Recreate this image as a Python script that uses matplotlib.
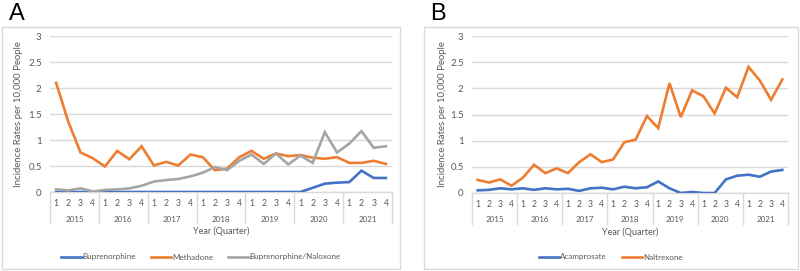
import numpy as np
import matplotlib
matplotlib.use("Agg")
import matplotlib.pyplot as plt
from matplotlib.patches import Rectangle
import matplotlib.transforms as mtransforms

plt.rcParams['font.family'] = ['Lato', 'DejaVu Sans']

years = ['2015', '2016', '2017', '2018', '2019', '2020', '2021']
quarters = ['1', '2', '3', '4']

# Panel A - opioid use disorder medications
buprenorphine = [0, 0, 0, 0, 0, 0, 0, 0, 0, 0, 0, 0, 0, 0, 0, 0,
                 0, 0, 0, 0, 0, 0.08, 0.16, 0.18, 0.19, 0.41, 0.27, 0.27]
methadone = [2.10, 1.35, 0.76, 0.65, 0.49, 0.79, 0.63, 0.88, 0.51, 0.58, 0.51, 0.72,
             0.67, 0.42, 0.45, 0.67, 0.79, 0.64, 0.74, 0.69, 0.71, 0.66, 0.64, 0.67,
             0.56, 0.56, 0.60, 0.54]
bup_naloxone = [0.05, 0.03, 0.07, 0.01, 0.04, 0.05, 0.07, 0.12, 0.20, 0.23, 0.25, 0.30,
                0.37, 0.48, 0.42, 0.60, 0.72, 0.54, 0.74, 0.53, 0.70, 0.56, 1.15, 0.76,
                0.93, 1.17, 0.85, 0.88]

# Panel B - alcohol use disorder medications
acamprosate = [0.05, 0.06, 0.09, 0.07, 0.09, 0.06, 0.09, 0.07, 0.08, 0.04, 0.09, 0.10,
               0.07, 0.12, 0.09, 0.11, 0.22, 0.09, 0.00, 0.02, 0.00, 0.00, 0.26, 0.33,
               0.35, 0.31, 0.41, 0.44]
naltrexone = [0.25, 0.20, 0.26, 0.14, 0.29, 0.54, 0.38, 0.47, 0.38, 0.59, 0.74, 0.59,
              0.64, 0.97, 1.02, 1.47, 1.24, 2.10, 1.45, 1.96, 1.85, 1.52, 2.01, 1.83,
              2.41, 2.15, 1.78, 2.17]

BLUE = '#4472C4'
ORANGE = '#ED7D31'
GRAY = '#A5A5A5'
GRID = '#D9D9D9'
TXT = '#595959'

W, H = 800, 271
fig = plt.figure(figsize=(W / 100, H / 100), dpi=100)


def px_axes(x0, x1, ytop, ybot):
    return fig.add_axes([x0 / W, (H - ybot) / H, (x1 - x0) / W, (ybot - ytop) / H])


def draw_panel(ax, series, letter, frame, letter_x, ylab_x):
    # frame around the panel
    fx0, fx1, fy0, fy1 = frame
    fig.patches.append(Rectangle((fx0 / W, (H - fy1) / H), (fx1 - fx0) / W, (fy1 - fy0) / H,
                                 transform=fig.transFigure, fill=False, ec=GRID, lw=1))
    fig.text(letter_x / W, (H - 14) / H, letter, fontsize=17, va='center', ha='left',
             family=['Liberation Sans', 'DejaVu Sans'])

    n = len(years) * len(quarters)
    x = np.arange(n)
    handles = []
    for vals, col, name in series:
        ln, = ax.plot(x, vals, color=col, lw=1.9, label=name, solid_joinstyle='miter')
        handles.append(ln)

    ax.set_xlim(-0.5, n - 0.5)
    ax.set_ylim(0, 3)
    ax.set_yticks([0, 0.5, 1, 1.5, 2, 2.5, 3])
    ax.set_yticklabels(['0', '0.5', '1', '1.5', '2', '2.5', '3'])
    ax.yaxis.grid(True, color=GRID, lw=1)
    ax.set_axisbelow(True)
    for s in ax.spines.values():
        s.set_visible(False)
    ax.tick_params(axis='y', length=0, pad=6, labelsize=7, labelcolor=TXT)
    ax.set_xticks(x)
    ax.set_xticklabels(quarters * len(years))
    ax.tick_params(axis='x', length=0, pad=5, labelsize=6.2, labelcolor=TXT)

    pos = ax.get_position()
    h_px = pos.height * H
    w_px = pos.width * W
    trans = mtransforms.blended_transform_factory(ax.transData, ax.transAxes)
    ax.plot([-0.5, n - 0.5], [0, 0], color=GRID, lw=1, transform=trans, zorder=0.5,
            clip_on=False)
    for k in range(len(years) + 1):
        ax.plot([k * 4 - 0.5] * 2, [0, -31 / h_px], color=GRID, lw=1,
                transform=trans, clip_on=False)
    for k, yr in enumerate(years):
        ax.text(k * 4 + 1.5, -27 / h_px, yr, transform=trans, ha='center', va='center',
                fontsize=5.8, color=TXT)
    ax.text(0.5, -39 / h_px, 'Year (Quarter)', transform=ax.transAxes, ha='center',
            va='center', fontsize=6.5, color=TXT)
    ax.set_ylabel('Incidence Rates per 10,000 People', fontsize=6.9, color=TXT)
    ax.yaxis.set_label_coords((ylab_x - pos.x0 * W) / w_px, 0.5)

    leg = ax.legend(handles=handles, loc='center',
                    bbox_to_anchor=((fx0 + fx1) / 2 / W, (H - 257) / H),
                    bbox_transform=fig.transFigure,
                    ncol=len(series), frameon=False, fontsize=5.8, handlelength=2.5,
                    handletextpad=0.1, columnspacing=1.9)
    for t in leg.get_texts():
        t.set_color(TXT)
    return leg


axA = px_axes(50, 392, 36, 192)
draw_panel(axA, [(buprenorphine, BLUE, 'Buprenorphine'),
                 (methadone, ORANGE, 'Methadone'),
                 (bup_naloxone, GRAY, 'Buprenorphine/Naloxone')],
           'A', (2, 400, 27, 269), 9, 23)

axB = px_axes(472, 788, 36, 193)
draw_panel(axB, [(acamprosate, BLUE, 'Acamprosate'),
                 (naltrexone, ORANGE, 'Naltrexone')],
           'B', (424, 798, 27, 269), 430, 447)

fig.savefig('out.png', dpi=100)
